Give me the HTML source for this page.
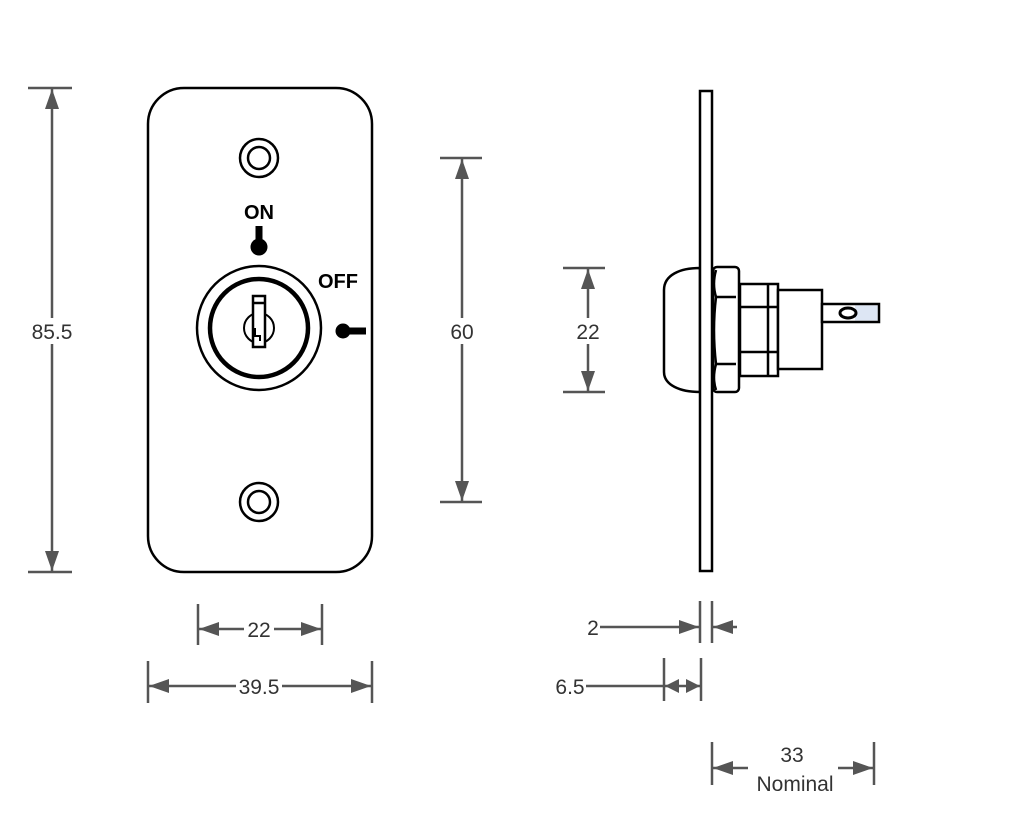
<!DOCTYPE html>
<html><head><meta charset="utf-8"><style>html,body{margin:0;padding:0;background:#fff}svg{display:block}</style></head><body>
<svg width="1019" height="838" viewBox="0 0 1019 838" xmlns="http://www.w3.org/2000/svg">
<defs>
<marker id="a" viewBox="0 0 14 14" refX="14" refY="7" markerWidth="14" markerHeight="14" markerUnits="userSpaceOnUse" orient="auto-start-reverse"><path d="M0,0 L14,7 L0,14 z" fill="#555"/></marker>
<marker id="b" viewBox="0 0 20 14" refX="20" refY="7" markerWidth="20" markerHeight="14" markerUnits="userSpaceOnUse" orient="auto-start-reverse"><path d="M0,0 L20,7 L0,14 z" fill="#555"/></marker>
</defs>
<g fill="none" stroke="#000" stroke-width="2.5">
<rect x="148" y="88" width="224" height="484" rx="36"/>
<circle cx="259" cy="158" r="19"/><circle cx="259" cy="158" r="11"/>
<circle cx="259" cy="502" r="19"/><circle cx="259" cy="502" r="11"/>
<circle cx="259" cy="328" r="62"/>
<circle cx="259" cy="328" r="49" stroke-width="4.5"/>
<circle cx="259" cy="328" r="15" stroke-width="2"/>
<rect x="253" y="296" width="12" height="51" fill="#fff"/>
<line x1="253" y1="303" x2="265" y2="303"/>
<path d="M255,328 v8 h5 v5" stroke-width="2"/>
</g>
<g fill="#000">
<circle cx="259" cy="247" r="8.5"/><rect x="255.5" y="226" width="7" height="18"/>
<circle cx="343" cy="331" r="7.5"/><rect x="345" y="327.5" width="21" height="7"/>
</g>
<g font-family="Liberation Sans, sans-serif" font-weight="bold" font-size="20" fill="#000">
<text x="259" y="219" text-anchor="middle">ON</text>
<text x="338" y="288" text-anchor="middle">OFF</text>
</g>
<!-- side view -->
<g fill="#fff" stroke="#000" stroke-width="2.5">
<path d="M700,268 C680,268 664,275 664,290 L664,372 C664,385 680,392 700,392 z"/>
<rect x="700" y="91" width="12" height="480"/>
<rect x="713" y="267" width="26" height="125" rx="4"/>
<path d="M716,297 h20 M716,364 h20" />
<path d="M716,270 q-4,14 0,27 q-4,33 0,67 q-4,14 0,26" fill="none"/>
<rect x="740" y="284" width="38" height="92"/>
<path d="M740,307 h38 M740,352 h38 M768,284 v92" fill="none"/>
<rect x="778" y="290" width="44" height="79"/>
<rect x="822" y="304" width="57" height="18"/>
<rect x="855" y="305.5" width="22.5" height="15" fill="#dde6f4" stroke="none"/>
<ellipse cx="848" cy="313" rx="8" ry="5" stroke-width="3"/>
</g>
<!-- dimensions -->
<g stroke="#555" stroke-width="2.5" fill="none">
<path d="M28,88 h44 M28,572 h44"/>
<line x1="52" y1="89" x2="52" y2="571" marker-start="url(#b)" marker-end="url(#b)"/>
<path d="M440,158 h42 M440,502 h42"/>
<line x1="462" y1="159" x2="462" y2="501" marker-start="url(#b)" marker-end="url(#b)"/>
<path d="M563,268 h42 M563,392 h42"/>
<line x1="588" y1="269" x2="588" y2="391" marker-start="url(#b)" marker-end="url(#b)"/>
<path d="M198,604 v41 M322,604 v41"/>
<line x1="199" y1="629" x2="321" y2="629" marker-start="url(#b)" marker-end="url(#b)"/>
<path d="M148,661 v42 M372,661 v42"/>
<line x1="149" y1="686" x2="371" y2="686" marker-start="url(#b)" marker-end="url(#b)"/>
<path d="M700,601 v42 M712,601 v42"/>
<line x1="600" y1="627" x2="699" y2="627" marker-end="url(#b)"/>
<line x1="737" y1="627" x2="713" y2="627" marker-end="url(#b)"/>
<path d="M664,658 v43 M701,658 v43"/>
<line x1="586" y1="686" x2="665" y2="686"/>
<line x1="665" y1="686" x2="700" y2="686" marker-start="url(#a)" marker-end="url(#a)"/>
<path d="M712,742 v43 M874,742 v43"/>
<line x1="748" y1="768" x2="713" y2="768" marker-end="url(#b)"/>
<line x1="838" y1="768" x2="873" y2="768" marker-end="url(#b)"/>
</g>
<g font-family="Liberation Sans, sans-serif" font-size="21" fill="#333" text-anchor="middle">
<rect x="30" y="318" width="46" height="26" fill="#fff"/><text x="52" y="339">85.5</text>
<rect x="448" y="318" width="28" height="26" fill="#fff"/><text x="462" y="339">60</text>
<rect x="574" y="318" width="28" height="26" fill="#fff"/><text x="588" y="339">22</text>
<rect x="244" y="617" width="30" height="24" fill="#fff"/><text x="259" y="637">22</text>
<rect x="236" y="674" width="46" height="24" fill="#fff"/><text x="259" y="694">39.5</text>
<text x="593" y="635">2</text>
<text x="570" y="694">6.5</text>
<text x="792" y="762">33</text>
<text x="795" y="791">Nominal</text>
</g>
</svg>
</body></html>
